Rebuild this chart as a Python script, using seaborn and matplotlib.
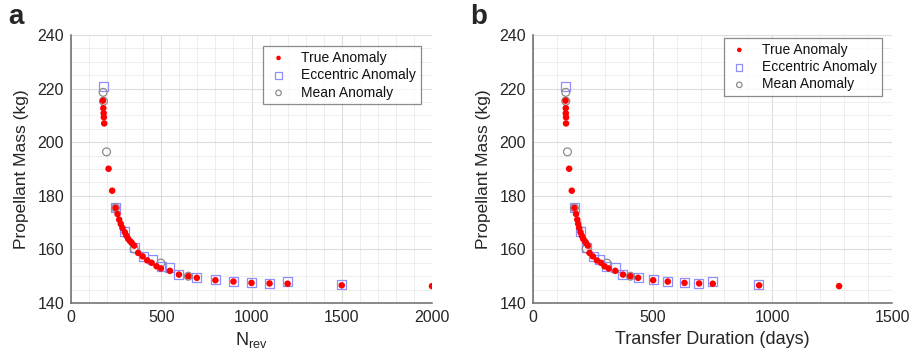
import matplotlib
matplotlib.use("Agg")
import matplotlib.pyplot as plt
from matplotlib.ticker import MultipleLocator
import seaborn as sns
import pandas as pd

# True Anomaly solutions
true_nrev = [177, 179, 181, 182, 184, 208, 228, 247, 258, 267, 276, 285, 298, 307, 317,
             328, 337, 350, 372, 397, 422, 447, 474, 498, 548, 598, 650, 697,
             800, 900, 1000, 1100, 1200, 1500, 2000]
true_days = [136, 137, 137, 138, 138, 151, 162, 173, 180, 185, 189, 193, 198.5, 204, 210,
             217, 222, 229, 236, 250, 267, 284, 299, 316, 344, 376, 407, 439,
             502, 563, 633, 694, 751, 945, 1279]
true_mass = [215.5, 212.7, 210.8, 209.3, 207.0, 190.1, 181.9, 175.5, 173.2, 171.1, 169.5,
             168.0, 166.4, 165.1, 163.9, 163.0, 162.4, 161.4, 158.7, 157.4, 155.9, 155.0,
             153.7, 152.9, 152.0, 150.6, 150.0, 149.4, 148.5, 148.0, 147.5, 147.3, 147.2,
             146.6, 146.3]

# Eccentric Anomaly solutions
ecc_nrev = [178, 247, 298, 350, 400, 450, 500, 548, 598, 697, 800, 900, 1000, 1100, 1200, 1500]
ecc_days = [137, 173, 198.5, 222, 253, 278, 309, 344, 376, 439, 503, 564, 631, 693, 751, 944]
ecc_mass = [220.8, 175.8, 166.6, 160.8, 157.3, 156.4, 153.6, 153.1, 150.6, 149.4,
            148.6, 148.2, 147.7, 147.4, 148.0, 146.8]

# Mean Anomaly solutions
mean_nrev = [178, 180, 197, 247, 350, 498, 650]
mean_days = [137, 137, 144, 173, 222, 309, 407]
mean_mass = [218.6, 215.3, 196.4, 175.5, 160.2, 154.9, 150.0]

true_df = pd.DataFrame({"nrev": true_nrev, "days": true_days, "mass": true_mass})
ecc_df = pd.DataFrame({"nrev": ecc_nrev, "days": ecc_days, "mass": ecc_mass})
mean_df = pd.DataFrame({"nrev": mean_nrev, "days": mean_days, "mass": mean_mass})

sns.set_style("white")
plt.rcParams["font.family"] = ["Liberation Sans", "DejaVu Sans"]
plt.rcParams["mathtext.default"] = "regular"

fig = plt.figure(figsize=(9.15, 3.58), dpi=100)
ax_a = fig.add_axes([71 / 915, 1 - 303 / 358, 361 / 915, 268 / 358])
ax_b = fig.add_axes([533 / 915, 1 - 303 / 358, 359 / 915, 268 / 358])

axis_col = "#6a6a6a"
text_col = "#262626"


def draw_panel(ax, xcol, xmax, xlabel, letter, leg_anchor):
    sns.scatterplot(data=true_df, x=xcol, y="mass", ax=ax, color="#ff0000", marker="o",
                    s=22, edgecolor="none", label="True Anomaly", zorder=4)
    sns.scatterplot(data=ecc_df, x=xcol, y="mass", ax=ax, marker="s", s=42,
                    facecolor="none", edgecolor="#8f8fff", linewidth=0.9,
                    label="Eccentric Anomaly", zorder=3)
    sns.scatterplot(data=mean_df, x=xcol, y="mass", ax=ax, marker="o", s=32,
                    facecolor="none", edgecolor="#8c8c8c", linewidth=0.9,
                    label="Mean Anomaly", zorder=3)

    ax.set_xlim(0, xmax)
    ax.set_ylim(140, 240)
    ax.xaxis.set_major_locator(MultipleLocator(500))
    ax.xaxis.set_minor_locator(MultipleLocator(100))
    ax.yaxis.set_major_locator(MultipleLocator(20))
    ax.yaxis.set_minor_locator(MultipleLocator(5))
    ax.grid(True, which="major", color="#dcdcdc", linewidth=0.8)
    ax.grid(True, which="minor", color="#ebebeb", linewidth=0.6)
    ax.set_axisbelow(True)

    for side in ["top", "right"]:
        ax.spines[side].set_visible(False)
    for side in ["left", "bottom"]:
        ax.spines[side].set_color(axis_col)
        ax.spines[side].set_linewidth(1.1)
    ax.tick_params(which="major", direction="in", length=4, color=axis_col,
                   labelsize=11.5, labelcolor=text_col, pad=5)
    ax.tick_params(which="minor", length=0)

    ax.set_xlabel(xlabel, fontsize=13, color=text_col, labelpad=4)
    ax.set_ylabel("Propellant Mass (kg)", fontsize=12.5, color=text_col, labelpad=6)

    leg = ax.legend(loc="upper right", bbox_to_anchor=leg_anchor, fontsize=10,
                    frameon=True, fancybox=False, borderpad=0.35, labelspacing=0.25,
                    handletextpad=0.9, handlelength=1.5, markerscale=0.7,
                    borderaxespad=0)
    leg.get_frame().set_edgecolor("#6e6e6e")
    leg.get_frame().set_linewidth(0.9)
    for t in leg.get_texts():
        t.set_color("#111111")

    ax.text(-0.175, 1.02, letter, transform=ax.transAxes, fontsize=20,
            fontweight="bold", ha="left", va="bottom")


draw_panel(ax_a, "nrev", 2000, r"$N_{rev}$", "a", (0.97, 0.96))
draw_panel(ax_b, "days", 1500, "Transfer Duration (days)", "b", (0.972, 0.99))

fig.savefig("out.png", dpi=100)
